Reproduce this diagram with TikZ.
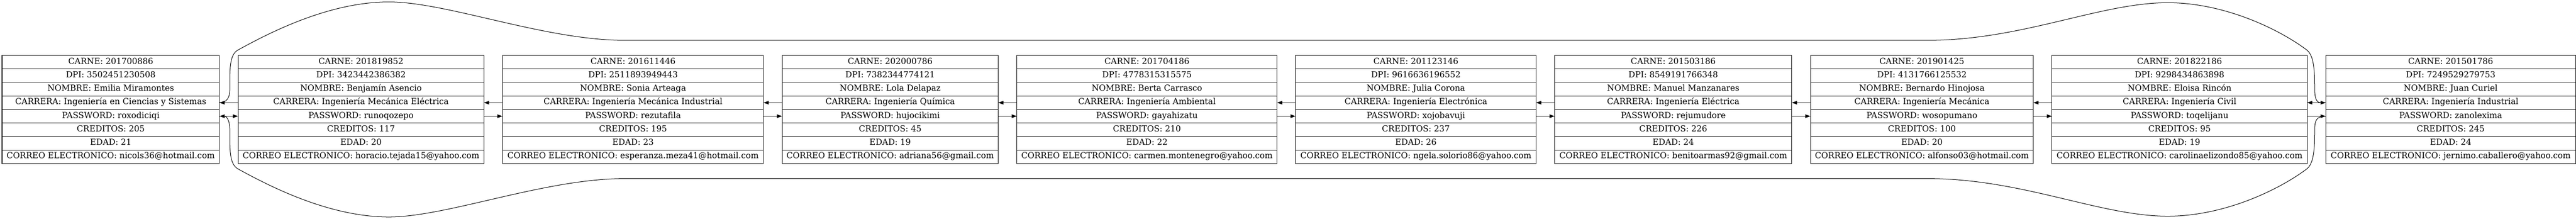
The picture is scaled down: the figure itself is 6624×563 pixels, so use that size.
\documentclass[tikz,border=0pt]{standalone}
\usepackage{fontspec}
\setmainfont{DejaVu Serif}
\usetikzlibrary{arrows.meta,positioning}

\tikzset{
  campo/.style={draw, line width=1pt, inner sep=0pt, outer sep=0pt,
    minimum height=26.06pt, text height=0.73em, text depth=0pt,
    font=\fontsize{16}{18}\selectfont},
  flecha/.style={line width=1pt, -{Triangle[length=10pt,width=6.7pt]}}
}

\newcommand{\registro}[4]{%
  \foreach \campo [count=\i, remember=\i as \j (initially 0)] in {#4} {
    \ifnum\i=1
      \node[campo, minimum width=#3*0.75pt, #2] (#1-1) {\campo};
    \else
      \node[campo, minimum width=#3*0.75pt, below=0pt of #1-\j] (#1-\i) {\campo};
    \fi
  }%
}

\begin{document}
\begin{tikzpicture}[x=0.75pt,y=-0.75pt]
  \useasboundingbox (0,0) rectangle (6624,563);
  \registro{e1}{at={(5.3,142.4)}, anchor=north west}{559}{CARNE: 201700886, DPI: 3502451230508, NOMBRE: Emilia Miramontes, CARRERA: Ingeniería en Ciencias y Sistemas, PASSWORD: roxodiciqi, CREDITOS: 205, EDAD: 21, CORREO ELECTRONICO: nicols36@hotmail.com}
  \registro{e2}{right=36pt of e1-1}{632}{CARNE: 201819852, DPI: 3423442386382, NOMBRE: Benjamín Asencio, CARRERA: Ingeniería Mecánica Eléctrica, PASSWORD: runoqozepo, CREDITOS: 117, EDAD: 20, CORREO ELECTRONICO: horacio.tejada15@yahoo.com}
  \registro{e3}{right=36pt of e2-1}{671}{CARNE: 201611446, DPI: 2511893949443, NOMBRE: Sonia Arteaga, CARRERA: Ingeniería Mecánica Industrial, PASSWORD: rezutafila, CREDITOS: 195, EDAD: 23, CORREO ELECTRONICO: esperanza.meza41@hotmail.com}
  \registro{e4}{right=36pt of e3-1}{555.5}{CARNE: 202000786, DPI: 7382344774121, NOMBRE: Lola Delapaz, CARRERA: Ingeniería Química, PASSWORD: hujocikimi, CREDITOS: 45, EDAD: 19, CORREO ELECTRONICO: adriana56@gmail.com}
  \registro{e5}{right=36pt of e4-1}{669}{CARNE: 201704186, DPI: 4778315315575, NOMBRE: Berta Carrasco, CARRERA: Ingeniería Ambiental, PASSWORD: gayahizatu, CREDITOS: 210, EDAD: 22, CORREO ELECTRONICO: carmen.montenegro@yahoo.com}
  \registro{e6}{right=36pt of e5-1}{618}{CARNE: 201123146, DPI: 9616636196552, NOMBRE: Julia Corona, CARRERA: Ingeniería Electrónica, PASSWORD: xojobavuji, CREDITOS: 237, EDAD: 26, CORREO ELECTRONICO: ngela.solorio86@yahoo.com}
  \registro{e7}{right=36pt of e6-1}{609.7}{CARNE: 201503186, DPI: 8549191766348, NOMBRE: Manuel Manzanares, CARRERA: Ingeniería Eléctrica, PASSWORD: rejumudore, CREDITOS: 226, EDAD: 24, CORREO ELECTRONICO: benitoarmas92@gmail.com}
  \registro{e8}{right=36pt of e7-1}{573}{CARNE: 201901425, DPI: 4131766125532, NOMBRE: Bernardo Hinojosa, CARRERA: Ingeniería Mecánica, PASSWORD: wosopumano, CREDITOS: 100, EDAD: 20, CORREO ELECTRONICO: alfonso03@hotmail.com}
  \registro{e9}{right=36pt of e8-1}{656}{CARNE: 201822186, DPI: 9298434863898, NOMBRE: Eloisa Rincón, CARRERA: Ingeniería Civil, PASSWORD: toqelijanu, CREDITOS: 95, EDAD: 19, CORREO ELECTRONICO: carolinaelizondo85@yahoo.com}
  \registro{e10}{right=36pt of e9-1}{642.5}{CARNE: 201501786, DPI: 7249529279753, NOMBRE: Juan Curiel, CARRERA: Ingeniería Industrial, PASSWORD: zanolexima, CREDITOS: 245, EDAD: 24, CORREO ELECTRONICO: jernimo.caballero@yahoo.com}

  \foreach \a [count=\b from 2] in {1,...,9} {
    \draw[flecha] (e\b-4.west) -- (e\a-4.east);
    \draw[flecha] (e\a-5.east) -- (e\b-5.west);
  }

  \draw[flecha] (e1-4.east) .. controls (584,264) and (591,250) .. (591,230)
    .. controls (591,180) and (589,140) .. (613,128)
    .. controls (700,80) and (850,5) .. (1000,5)
    .. controls (1150,5) and (1400,103.6) .. (1606,103.6)
    -- (4957,103.6)
    .. controls (5200,103.6) and (5400,7) .. (5574,7)
    .. controls (5720,7) and (5860,75) .. (5931,128)
    .. controls (5950,142) and (5952,180) .. (5952,230)
    .. controls (5952,255) and (5958,264) .. (e10-4.west);
  \draw[flecha] (e10-5.west) .. controls (5958,298.8) and (5952,307.8) .. (5952,332.8)
    .. controls (5952,382.8) and (5950,420.8) .. (5931,434.8)
    .. controls (5860,487.8) and (5720,555.8) .. (5574,555.8)
    .. controls (5400,555.8) and (5200,459.2) .. (4957,459.2)
    -- (1606,459.2)
    .. controls (1400,459.2) and (1150,557.8) .. (1000,557.8)
    .. controls (850,557.8) and (700,482.8) .. (613,434.8)
    .. controls (589,422.8) and (591,382.8) .. (591,332.8)
    .. controls (591,312.8) and (584,298.8) .. (e1-5.east);
\end{tikzpicture}
\end{document}
